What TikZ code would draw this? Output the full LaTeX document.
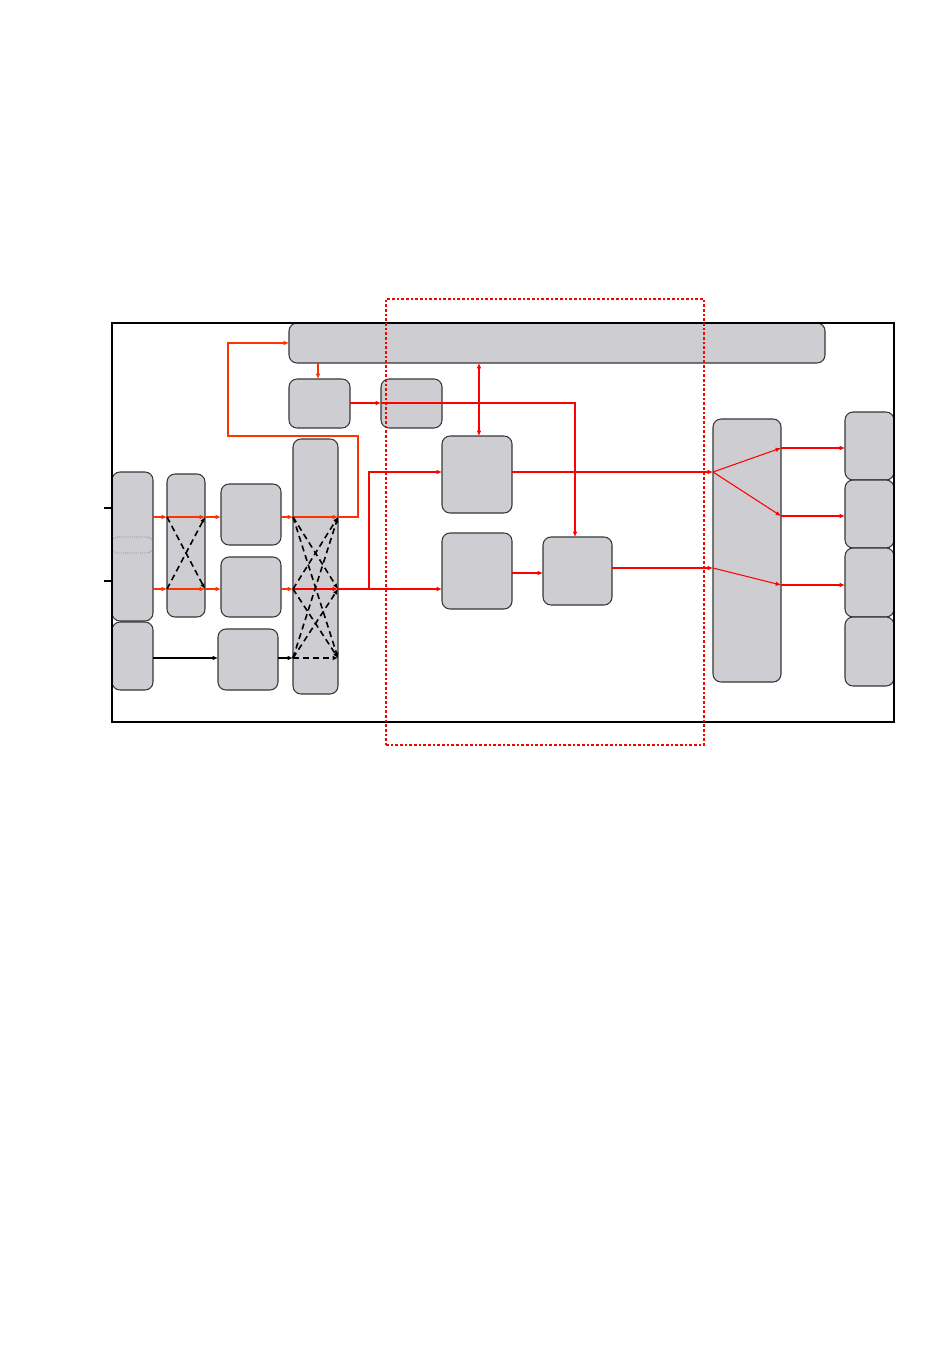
\documentclass[tikz,border=0pt]{standalone}
\usetikzlibrary{arrows.meta,fit}
\definecolor{boxfill}{RGB}{206,206,210}
\definecolor{boxline}{RGB}{55,55,55}
\definecolor{ored}{RGB}{255,51,0}
\tikzset{
  box/.style={draw=boxline, fill=boxfill, rounded corners=6pt, inner sep=0pt, outer sep=0pt, line width=0.8pt},
  tp/.tip={Latex[length=4pt,width=3.5pt]},
  ra/.style={draw=ored, line width=0.8pt, -tp},
  rA/.style={draw=ored, line width=1.6pt, -tp},
  rb/.style={draw=red, line width=0.8pt, -tp},
  rB/.style={draw=red, line width=1.6pt, -tp},
  bk/.style={draw=black, line width=0.8pt, -tp},
  dk/.style={draw=black, line width=1.2pt, dash pattern=on 4.5pt off 3pt, -tp},
}
\begin{document}
\begin{tikzpicture}[x=0.75pt,y=-0.75pt]
\useasboundingbox (0,0) rectangle (950,1369);
% rows / columns
\coordinate (y1) at (0,517);
\coordinate (y2) at (0,589);
\coordinate (y3) at (0,658);
\coordinate (yAB) at (0,403);
\coordinate (yC) at (0,472);
\coordinate (yD) at (0,573);
\coordinate (yE) at (0,568);
\coordinate (yo1) at (0,448);
\coordinate (yo2) at (0,516);
\coordinate (yo3) at (0,585);
\coordinate (xA) at (318,0);
\coordinate (xBC) at (479,0);
\coordinate (xE) at (575,0);
\coordinate (in1) at (104,508);
\coordinate (in2) at (104,581);
\coordinate (lp1) at (358,517);
\coordinate (lp2) at (358,436);
\coordinate (lp3) at (228,436);
\coordinate (lp4) at (228,343);
\coordinate (br) at (369,589);
\coordinate (ct) at (575,403);

% boxes
\node[box, fit={(289,323)(825,363)}] (bar) {};
\node[box, fit={(289,379)(350,428)}] (A) {};
\node[box, fit={(381,379)(442,428)}] (B) {};
\node[box, fit={(112,472)(153,621)}] (L1) {};
\node[draw=gray, densely dotted, line width=0.6pt, rounded corners=4pt, inner sep=0pt, fit={(112,537)(153,553)}] (L1s) {};
\node[box, fit={(112,622)(153,690)}] (L2) {};
\node[box, fit={(167,474)(205,617)}] (S1) {};
\node[box, fit={(221,484)(281,545)}] (M1) {};
\node[box, fit={(221,557)(281,617)}] (M2) {};
\node[box, fit={(218,629)(278,690)}] (M3) {};
\node[box, fit={(293,439)(338,694)}] (S2) {};
\node[box, fit={(442,436)(512,513)}] (C) {};
\node[box, fit={(442,533)(512,609)}] (D) {};
\node[box, fit={(543,537)(612,605)}] (E) {};
\node[box, fit={(713,419)(781,682)}] (F) {};
\node[box, fit={(845,412)(894,480)}] (O1) {};
\node[box, fit={(845,480)(894,548)}] (O2) {};
\node[box, fit={(845,548)(894,617)}] (O3) {};
\node[box, fit={(845,617)(894,686)}] (O4) {};

% inputs
\draw[black, line width=0.8pt] (in1) -- (in1 -| L1.west);
\draw[black, line width=0.8pt] (in2) -- (in2 -| L1.west);

% left red paths
\draw[rA] (L1.east |- y1) -- (S1.west |- y1);
\draw[ra] (L1.east |- y2) -- (S1.west |- y2);
\draw[rA] (S1.west |- y1) -- (S1.east |- y1);
\draw[rA] (S1.west |- y2) -- (S1.east |- y2);
\draw[dk] (S1.west |- y1) -- (S1.east |- y2);
\draw[dk] (S1.west |- y2) -- (S1.east |- y1);
\draw[rA] (S1.east |- y1) -- (M1.west |- y1);
\draw[ra] (S1.east |- y2) -- (M2.west |- y2);
\draw[rA] (M1.east |- y1) -- (S2.west |- y1);
\draw[ra] (M2.east |- y2) -- (S2.west |- y2);
\draw[rA] (S2.west |- y1) -- (S2.east |- y1);
\draw[rB] (S2.west |- y2) -- (S2.east |- y2);
\draw[bk] (L2.east |- y3) -- (M3.west |- y3);
\draw[bk] (M3.east |- y3) -- (S2.west |- y3);
% crossbar dashed
\draw[dk] (S2.west |- y1) -- (S2.east |- y2);
\draw[dk] (S2.west |- y1) -- (S2.east |- y3);
\draw[dk] (S2.west |- y2) -- (S2.east |- y1);
\draw[dk] (S2.west |- y2) -- (S2.east |- y3);
\draw[dk] (S2.west |- y3) -- (S2.east |- y1);
\draw[dk] (S2.west |- y3) -- (S2.east |- y2);
\draw[dk] (S2.west |- y3) -- (S2.east |- y3);

% feedback loop
\draw[ra] (S2.east |- y1) -- (lp1) -- (lp2) -- (lp3) -- (lp4) -- (bar.west |- lp4);

% to C and D
\draw[rb] (S2.east |- y2) -- (D.west |- y2);
\draw[rb] (br) |- (C.west |- yC);

% top
\draw[rA] (bar.south -| xA) -- (A.north -| xA);
\draw[rB] (A.east |- yAB) -- (B.west |- yAB);
\draw[rb] (B.west |- yAB) -- (ct) -- (E.north -| xE);
\draw[draw=red, line width=0.8pt, tp-tp] (bar.south -| xBC) -- (C.north -| xBC);

% middle to F
\draw[rb] (C.east |- yC) -- (F.west |- yC);
\draw[rb] (D.east |- yD) -- (E.west |- yD);
\draw[rb] (E.east |- yE) -- (F.west |- yE);
\draw[rb] (F.west |- yC) -- (F.east |- yo1);
\draw[rb] (F.west |- yC) -- (F.east |- yo2);
\draw[rb] (F.west |- yE) -- (F.east |- yo3);
\draw[rb] (F.east |- yo1) -- (O1.west |- yo1);
\draw[rb] (F.east |- yo2) -- (O2.west |- yo2);
\draw[rb] (F.east |- yo3) -- (O3.west |- yo3);

% frame and dashed region
\node[draw=black, line width=0.8pt, inner sep=0pt, outer sep=0pt, fit={(112,323)(894,722)}] (frame) {};
\node[draw=red, line width=0.8pt, dash pattern=on 2pt off 1.5pt, inner sep=0pt, fit={(386,299)(704,745)}] (region) {};
\end{tikzpicture}
\end{document}
